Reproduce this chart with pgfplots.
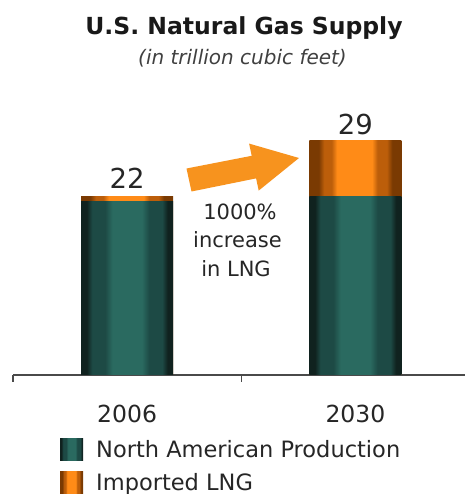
\documentclass[border=0pt]{standalone}
\usepackage{pgfplots}
\pgfplotsset{compat=1.18}
\usepackage{fontspec}
\setmainfont{DejaVu Sans}
\definecolor{greenD}{HTML}{10221F}
\definecolor{greenM}{HTML}{1D4A45}
\definecolor{greenL}{HTML}{2A6A60}
\definecolor{orangeD}{HTML}{7A3A02}
\definecolor{orangeM}{HTML}{BC5E0A}
\definecolor{orangeL}{HTML}{FF8B17}
\definecolor{arrowO}{HTML}{F7931E}
\definecolor{axisgray}{HTML}{4A4A4A}
\pgfdeclarehorizontalshading{greenbar}{100bp}{color(0bp)=(greenD); color(28bp)=(greenD); color(31bp)=(greenM); color(38bp)=(greenM); color(42bp)=(greenL); color(58bp)=(greenL); color(62bp)=(greenM); color(69bp)=(greenM); color(72bp)=(greenD); color(100bp)=(greenD)}
\pgfdeclarehorizontalshading{orangebar}{100bp}{color(0bp)=(orangeD); color(30bp)=(orangeD); color(33bp)=(orangeM); color(37bp)=(orangeM); color(40bp)=(orangeL); color(59bp)=(orangeL); color(62bp)=(orangeM); color(67bp)=(orangeM); color(70bp)=(orangeD); color(100bp)=(orangeD)}
\begin{document}
\begin{tikzpicture}[x=1pt,y=1pt]
\useasboundingbox (0,0) rectangle (465,494);
\begin{axis}[
  at={(13pt,119pt)}, anchor=south west,
  scale only axis, width=452pt, height=243pt,
  xmin=-0.5, xmax=1.48, ymin=0, ymax=30,
  clip=false,
  axis y line=none,
  axis x line*=bottom,
  x axis line style={-, draw=axisgray, line width=1.5pt},
  xtick={-0.5,0.5}, xticklabels={},
  xtick align=outside, major tick length=7pt,
  tick style={draw=axisgray, line width=1.5pt},
  extra x ticks={0,1},
  extra x tick labels={2006,2030},
  extra x tick style={major tick length=0pt, tick style={draw=none},
     xticklabel style={anchor=center, yshift=-39pt, font=\fontsize{23.5}{28}\selectfont, text=black!85}},
  /pgf/bar width=92pt,
  area legend,
  legend image code/.code={\draw[#1, draw=none] (0pt,-11pt) rectangle (23pt,11pt);},
  legend style={at={(0.104,-0.26)}, anchor=north west, draw=none, fill=none,
     font=\fontsize{22.5}{27}\selectfont, text=black!85, row sep=10pt,
     inner sep=0pt, nodes={inner sep=2pt},
     /tikz/every odd column/.append style={column sep=11pt}},
  legend cell align=left,
  reverse legend,
]
% Total supply (North American Production + Imported LNG): orange, drawn first
\addplot[ybar, bar shift=0pt, draw=none, shading=orangebar, forget plot]
  coordinates {(0,22.0)};
\addplot[ybar, bar shift=0pt, draw=none, shading=orangebar]
  coordinates {(1,29.0)};
\addlegendentry{Imported LNG}
% North American Production: green, drawn over the lower part
\addplot[ybar, bar shift=0pt, draw=none, shading=greenbar]
  coordinates {(0,21.4)};
\addlegendentry{North American Production}
\addplot[ybar, bar shift=0pt, draw=none, shading=greenbar, forget plot]
  coordinates {(1,22.0)};
\node[font=\fontsize{27.5}{32}\selectfont, text=black!85] at (axis cs:0,22) [yshift=18.5pt] {22};
\node[font=\fontsize{27.5}{32}\selectfont, text=black!85] at (axis cs:1,29) [yshift=16pt] {29};
\end{axis}
\fill[arrowO] (186.5,325.5) -- (251.7,338.2) -- (249.1,350.4) -- (299,336) -- (258.7,303.4) -- (256.1,315.6) -- (191.5,302.5) -- cycle;
\node[anchor=base, font=\bfseries\fontsize{23.5}{28}\selectfont, text=black!90] at (244,459) {U.S. Natural Gas Supply};
\node[anchor=base, font=\itshape\fontsize{20}{24}\selectfont, text=black!75] at (242.5,429) {(in trillion cubic feet)};
\begin{scope}[every node/.style={anchor=base, font=\fontsize{21}{25}\selectfont, text=black!85}]
\node at (240,274) {1000\%};
\node at (237.5,246) {increase};
\node at (236,217) {in LNG};
\end{scope}
\end{tikzpicture}
\end{document}
